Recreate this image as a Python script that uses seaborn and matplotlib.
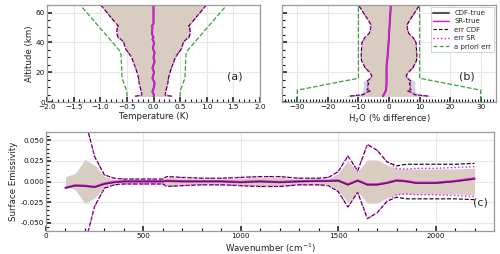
import numpy as np
import pandas as pd
import matplotlib
matplotlib.use("Agg")
import matplotlib.pyplot as plt
import seaborn as sns
from matplotlib.ticker import MultipleLocator, FormatStrFormatter
from matplotlib.lines import Line2D

# ---------------- data ----------------
# panel (a): temperature
alt_a = [3.8, 4.8, 7, 10, 13, 16, 20, 23, 27, 30, 33, 36, 40, 42, 43, 46, 50, 51, 52.5, 65]
err_a = [0.35, 0.22, 0.23, 0.25, 0.27, 0.28, 0.31, 0.34, 0.38, 0.41, 0.47, 0.53, 0.56, 0.61, 0.66, 0.69, 0.68, 0.66, 0.70, 0.99]
mean_a = [0.0, 0.01, -0.02, 0.01, 0.02, -0.02, 0.01, -0.02, 0.02, 0.0, 0.02, -0.01, 0.01, -0.02, 0.0, -0.03, -0.02, -0.03, 0.0, 0.0]
prior_alt_a = [3.8, 7.3, 16, 32, 34, 65]
prior_a = [0.5, 0.5, 0.59, 0.61, 0.625, 1.375]

# panel (b): H2O
alt_b = [4, 5, 6.2, 7.5, 8.4, 10, 11, 12.5, 14, 15.5, 17.3, 19, 20.7, 23, 25, 28, 30.7, 35, 39.6, 43, 46, 48.4, 51.8, 55, 60, 65]
err_b = [12.8, 8.3, 7.8, 6.1, 7.2, 6.7, 7.0, 6.7, 7.2, 6.3, 5.6, 6.0, 6.7, 7.8, 8.3, 9.0, 9.1, 9.0, 8.9, 8.0, 6.5, 6.1, 5.9, 6.8, 8.4, 10.0]
cdf_band_b = [16, 10, 9, 8.5, 8.5, 8.5, 8.2, 8.5, 8.5, 7.0, 5.8, 6.0, 6.7, 7.8, 8.3, 9.0, 9.1, 9.0, 8.9, 8.0, 6.5, 6.1, 5.9, 6.8, 8.4, 10.0]
mean_b = [-2.0, -1.7, -1.4, -1.1, -1.0, -0.9, -0.85, -0.8, -0.8, -0.8, -0.8, -0.8, -0.8, -0.8, -0.75, -0.6, -0.45, -0.3, -0.15, 0.0, 0.0, 0.1, 0.2, 0.3, 0.45, 0.6]
prior_alt_b = [1, 8, 16, 65]
prior_b = [30, 30, 10, 10]

# panel (c): surface emissivity
wn = [100, 150, 200, 250, 300, 350, 400, 500, 600, 620, 700, 800, 900, 1000, 1100, 1200,
      1300, 1400, 1450, 1500, 1550, 1600, 1650, 1700, 1750, 1800, 1850, 1900, 2000, 2100, 2200]
cdf_mean_c = [-0.0078, -0.005, -0.0055, -0.0068, -0.003, -0.001, 0, 0, 0, 0.0005, 0, 0, 0, -0.001, 0, -0.001,
              0, 0.0005, 0.0005, 0.001, -0.004, 0.001, -0.004, -0.004, -0.002, 0.001, 0, -0.002, -0.002, 0, 0.003]
sr_mean_c = [-0.0076, -0.0047, -0.0052, -0.0065, -0.0025, -0.0006, 0.0003, 0.0003, 0.0003, 0.0008, 0.0003, 0.0003, 0.0003, -0.0007, 0.0003, -0.0007,
             0.0003, 0.0008, 0.0008, 0.0013, -0.0035, 0.0013, -0.0035, -0.0035, -0.0015, 0.0015, 0.0005, -0.0015, -0.0015, 0.0006, 0.0038]
cdf_err_c = [0.3, 0.15, 0.075, 0.030, 0.008, 0.004, 0.003, 0.003, 0.003, 0.006, 0.005, 0.004, 0.004, 0.005, 0.006, 0.006,
             0.004, 0.004, 0.005, 0.012, 0.031, 0.013, 0.045, 0.038, 0.024, 0.019, 0.021, 0.021, 0.021, 0.021, 0.022]
sr_err_c = [0.3, 0.15, 0.075, 0.030, 0.008, 0.004, 0.003, 0.003, 0.003, 0.006, 0.005, 0.004, 0.004, 0.005, 0.006, 0.006,
            0.004, 0.004, 0.005, 0.012, 0.031, 0.013, 0.045, 0.038, 0.024, 0.016, 0.015, 0.016, 0.016, 0.017, 0.018]
band_c = [0.005, 0.009, 0.026, 0.019, 0.006, 0.002, 0.002, 0.002, 0.002, 0.005, 0.004, 0.003, 0.003, 0.004, 0.005, 0.005,
          0.003, 0.003, 0.003, 0.010, 0.025, 0.012, 0.026, 0.026, 0.020, 0.0155, 0.015, 0.015, 0.015, 0.015, 0.016]
cdf_band_c = [0.006, 0.010, 0.027, 0.020, 0.006, 0.002, 0.002, 0.002, 0.002, 0.005, 0.004, 0.003, 0.003, 0.004, 0.005, 0.005,
              0.003, 0.003, 0.003, 0.010, 0.025, 0.012, 0.026, 0.026, 0.020, 0.0155, 0.015, 0.015, 0.015, 0.015, 0.016]

# ---------------- style ----------------
sns.set_theme(style="whitegrid")
plt.rcParams["font.family"] = ["DejaVu Sans"]
plt.rcParams.update({
    "grid.color": "#e6e6e6", "grid.linewidth": 0.8,
    "axes.edgecolor": "#9a9a9a", "axes.linewidth": 0.9,
    "xtick.direction": "in", "ytick.direction": "in",
    "xtick.bottom": True, "ytick.left": True,
    "xtick.top": False, "ytick.right": False,
    "xtick.major.size": 3.5, "ytick.major.size": 3.5,
    "xtick.minor.size": 2.0, "ytick.minor.size": 2.0,
    "xtick.major.width": 1.1, "ytick.major.width": 1.1,
    "xtick.minor.width": 0.8, "ytick.minor.width": 0.8,
    "xtick.color": "#111111", "ytick.color": "#111111",
    "xtick.labelsize": 5.2, "ytick.labelsize": 5.2,
    "xtick.major.pad": 1.5, "ytick.major.pad": 1.5,
    "axes.labelsize": 6.2, "axes.labelpad": 1.5,
    "axes.labelcolor": "#222222",
})

TAN = "#d9cdc1"
CDFBAND = "#cfd5dc"
MAG = "#ff00ff"
GRN = "#3c9f3c"
GREY = "#555555"

fig = plt.figure(figsize=(5.0, 2.54), dpi=100)
ax_a = fig.add_axes([0.094, 0.598, 0.426, 0.382])
ax_b = fig.add_axes([0.564, 0.598, 0.428, 0.382])
ax_c = fig.add_axes([0.092, 0.0906, 0.896, 0.3894])


def vline(ax, x, y, **kw):
    sns.lineplot(x=x, y=y, orient="y", sort=False, estimator=None, ax=ax, **kw)


def neg(v):
    return [-t for t in v]


# panel (a)
ax_a.fill_betweenx(alt_a, neg(err_a), err_a, color=TAN, lw=0, zorder=1)
vline(ax_a, prior_a, prior_alt_a, color=GRN, linestyle="--", lw=0.9, dashes=(3, 2))
vline(ax_a, neg(prior_a), prior_alt_a, color=GRN, linestyle="--", lw=0.9, dashes=(3, 2))
for s in (1, -1):
    vline(ax_a, [s * e for e in err_a], alt_a, color="black", lw=0.8, linestyle="--", dashes=(3, 2))
    vline(ax_a, [s * e for e in err_a], alt_a, color=MAG, lw=1.0, linestyle=":")
vline(ax_a, mean_a, alt_a, color=GREY, lw=1.5)
vline(ax_a, mean_a, alt_a, color=MAG, lw=1.0)
ax_a.set_xlim(-2, 2)
ax_a.set_ylim(0, 65)
ax_a.xaxis.set_major_locator(MultipleLocator(0.5))
ax_a.xaxis.set_minor_locator(MultipleLocator(0.1))
ax_a.yaxis.set_major_locator(MultipleLocator(20))
ax_a.yaxis.set_minor_locator(MultipleLocator(5))
ax_a.set_xlabel("Temperature (K)")
ax_a.set_ylabel("Altitude (km)")
ax_a.text(0.88, 0.26, "(a)", transform=ax_a.transAxes, fontsize=8, ha="center", va="center")

# panel (b)
ax_b.fill_betweenx(alt_b, neg(cdf_band_b), cdf_band_b, color=CDFBAND, lw=0, zorder=1)
ax_b.fill_betweenx(alt_b, neg(err_b), err_b, color=TAN, lw=0, zorder=1)
vline(ax_b, prior_b, prior_alt_b, color=GRN, linestyle="--", lw=0.9, dashes=(3, 2))
vline(ax_b, neg(prior_b), prior_alt_b, color=GRN, linestyle="--", lw=0.9, dashes=(3, 2))
for s in (1, -1):
    vline(ax_b, [s * e for e in err_b], alt_b, color="black", lw=0.8, linestyle="--", dashes=(3, 2))
    vline(ax_b, [s * e for e in err_b], alt_b, color=MAG, lw=1.0, linestyle=":")
vline(ax_b, mean_b, alt_b, color=GREY, lw=1.5)
vline(ax_b, mean_b, alt_b, color=MAG, lw=1.0)
ax_b.set_xlim(-35, 35)
ax_b.set_ylim(0, 65)
ax_b.xaxis.set_major_locator(MultipleLocator(10))
ax_b.xaxis.set_minor_locator(MultipleLocator(1))
ax_b.yaxis.set_major_locator(MultipleLocator(20))
ax_b.yaxis.set_minor_locator(MultipleLocator(5))
ax_b.set_yticklabels([])
ax_b.set_xlabel("H$_2$O (% difference)")
ax_b.set_ylabel("")
ax_b.text(0.865, 0.26, "(b)", transform=ax_b.transAxes, fontsize=8, ha="center", va="center")

handles = [
    Line2D([], [], color=GREY, lw=1.5, label="CDF-true"),
    Line2D([], [], color=MAG, lw=1.0, label="SR-true"),
    Line2D([], [], color="black", lw=0.8, linestyle="--", dashes=(3, 2), label="err CDF"),
    Line2D([], [], color=MAG, lw=1.0, linestyle=":", label="err SR"),
    Line2D([], [], color=GRN, lw=0.9, linestyle="--", dashes=(3, 2), label="a priori err"),
]
leg = ax_b.legend(handles=handles, loc="upper right", fontsize=5, frameon=True, framealpha=1,
                  edgecolor="#cccccc", fancybox=False, borderpad=0.4, labelspacing=0.35,
                  handlelength=2.2, handletextpad=0.8, borderaxespad=0.3)
leg.get_frame().set_linewidth(0.6)

# panel (c)
ax_c.fill_between(wn, neg(cdf_band_c), cdf_band_c, color="#c9ddef", lw=0, zorder=1)
ax_c.fill_between(wn, neg(band_c), band_c, color=TAN, lw=0, zorder=1)
for s in (1, -1):
    sns.lineplot(x=wn, y=[s * e for e in cdf_err_c], ax=ax_c, color="black", lw=0.8,
                 linestyle="--", dashes=(3, 2), estimator=None, sort=False)
    sns.lineplot(x=wn, y=[s * e for e in sr_err_c], ax=ax_c, color=MAG, lw=1.0,
                 linestyle=":", estimator=None, sort=False)
sns.lineplot(x=wn, y=sr_mean_c, ax=ax_c, color=MAG, lw=1.7, estimator=None, sort=False)
sns.lineplot(x=wn, y=cdf_mean_c, ax=ax_c, color="#333333", lw=0.9, estimator=None, sort=False)
ax_c.set_xlim(0, 2300)
ax_c.set_ylim(-0.06, 0.06)
ax_c.xaxis.set_major_locator(MultipleLocator(500))
ax_c.xaxis.set_minor_locator(MultipleLocator(100))
ax_c.yaxis.set_major_locator(MultipleLocator(0.025))
ax_c.yaxis.set_minor_locator(MultipleLocator(0.005))
ax_c.yaxis.set_major_formatter(FormatStrFormatter("%.3f"))
ax_c.set_xlabel("Wavenumber (cm$^{-1}$)")
ax_c.set_ylabel("Surface Emissivity")
ax_c.text(0.969, 0.286, "(c)", transform=ax_c.transAxes, fontsize=8, ha="center", va="center")

for ax in (ax_a, ax_b, ax_c):
    ax.grid(True, which="major")
    ax.grid(False, which="minor")
    ax.set_axisbelow(True)
    ax.tick_params(which="both", bottom=True, left=True, top=False, right=False, direction="in")

fig.savefig("out.png", dpi=100)
